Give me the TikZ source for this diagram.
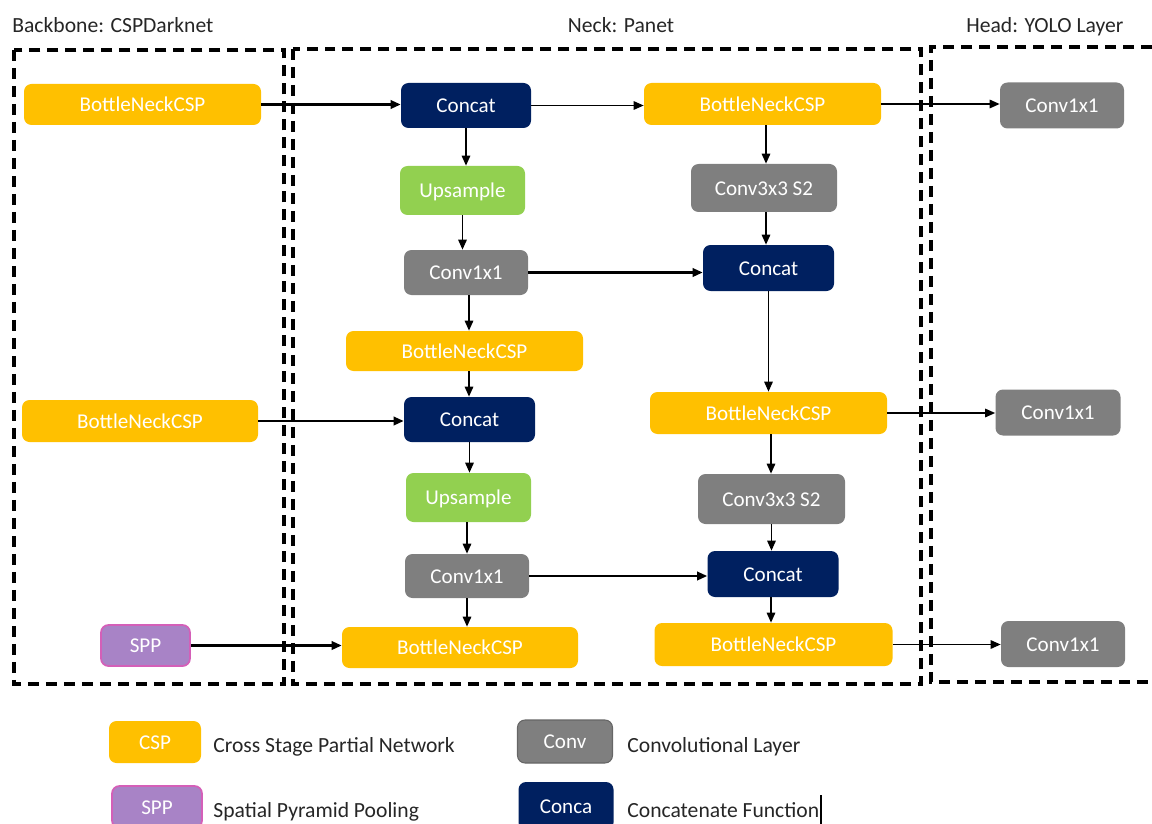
\documentclass[tikz,border=0pt]{standalone}
\usepackage{fontspec}
\setmainfont{Carlito}
\usetikzlibrary{arrows.meta}
\definecolor{cspY}{HTML}{FFC000}
\definecolor{navyC}{HTML}{002060}
\definecolor{greenU}{HTML}{92D050}
\definecolor{grayC}{HTML}{7F7F7F}
\definecolor{sppF}{HTML}{A883C6}
\definecolor{sppB}{HTML}{D45FB8}
\definecolor{titleC}{HTML}{262626}
\begin{document}
\begin{tikzpicture}[x=0.02cm,y=-0.02cm,
  blk/.style={rounded corners=0.15cm, inner sep=0pt, text=white, font=\fontsize{12}{14}\selectfont, text height=0.85em, text depth=0pt},
  wh/.style 2 args={minimum width=#1*0.02cm, minimum height=#2*0.02cm},
  csp/.style={blk, fill=cspY},
  cat/.style={blk, fill=navyC},
  ups/.style={blk, fill=greenU},
  conv/.style={blk, fill=grayC},
  spp/.style={blk, fill=sppF, draw=sppB, line width=1pt},
  arr/.style={-{Triangle[length=0.2cm,width=0.17cm]}, line width=0.85pt},
  arrb/.style={arr, line width=1.2pt},
  secbox/.style={draw=black, line width=2.2pt, dash pattern=on 0.22cm off 0.14cm},
  ttl/.style={anchor=base west, inner sep=0pt, text=titleC, font=\fontsize{12.3}{14}\selectfont},
  lgd/.style={anchor=base west, inner sep=0pt, text=black!85, font=\fontsize{12.3}{14}\selectfont}
]
\useasboundingbox (0,0) rectangle (1152,824);

% titles
\node[ttl] (tb) at (12,33) {Backbone: CSPDarknet};
\node[ttl, anchor=base] (tn) at (621,33) {Neck: Panet};
\node[ttl] (th) at (966,33) {Head: YOLO Layer};

% backbone
\node[csp, wh={237}{41}] (b1) at (142.5,104.5) {BottleNeckCSP};
\node[csp, wh={236}{42}] (b2) at (140,421) {BottleNeckCSP};
\node[spp, wh={89}{41}] (sp) at (145.5,645.5) {SPP};

% neck left column
\node[cat, wh={130}{45}] (c1) at (466,105.5) {Concat};
\node[ups, wh={125}{49}] (u1) at (462.5,190.5) {Upsample};
\node[conv, wh={124}{45}] (k1) at (466,272.5) {Conv1x1};
\node[csp, wh={237}{40}] (n3) at (464.5,351) {BottleNeckCSP};
\node[cat, wh={131}{45}] (c2) at (469.5,419.5) {Concat};
\node[ups, wh={125}{49}] (u2) at (468.5,497.5) {Upsample};
\node[conv, wh={124}{44}] (k2) at (467,576) {Conv1x1};
\node[csp, wh={236}{41}] (n4) at (460,647.5) {BottleNeckCSP};

% neck right column
\node[csp, wh={237}{42}] (n5) at (762.5,104) {BottleNeckCSP};
\node[conv, wh={146}{48}] (s1) at (764,188) {Conv3x3 S2};
\node[cat, wh={131}{46}] (c3) at (768.5,268) {Concat};
\node[csp, wh={237}{42}] (n6) at (768.5,413) {BottleNeckCSP};
\node[conv, wh={147}{50}] (s2) at (771.5,499) {Conv3x3 S2};
\node[cat, wh={131}{46}] (c4) at (773,574) {Concat};
\node[csp, wh={238}{43}] (n7) at (773.5,644.5) {BottleNeckCSP};

% head
\node[conv, wh={124}{46}] (h1) at (1062,105.5) {Conv1x1};
\node[conv, wh={125}{46}] (h2) at (1058,412.5) {Conv1x1};
\node[conv, wh={124}{46}] (h3) at (1063,644) {Conv1x1};

% arrows
\draw[arrb] (b1.east) -- (b1.east -| c1.west);
\draw[arr] (c1.east) -- (c1.east -| n5.west);
\draw[arr] (n5.east) -- (n5.east -| h1.west);
\draw[arr] (c1.south) -- (c1.south |- u1.north);
\draw[arr] (u1.south) -- (u1.south |- k1.north);
\draw[arrb] (k1.east) -- (k1.east -| c3.west);
\draw[arr] ([xshift=3*0.02cm]k1.south) -- ([xshift=3*0.02cm]k1.south |- n3.north);
\draw[arr] ([xshift=4.5*0.02cm]n3.south) -- ([xshift=4.5*0.02cm]n3.south |- c2.north);
\draw[arrb] (b2.east) -- (b2.east -| c2.west);
\draw[arr] (c2.south) -- (c2.south |- u2.north);
\draw[arr] ([xshift=-1.5*0.02cm]u2.south) -- ([xshift=-1.5*0.02cm]u2.south |- k2.north);
\draw[arrb] (k2.east) -- (k2.east -| c4.west);
\draw[arr] (k2.south) -- (k2.south |- n4.north);
\draw[arrb] (sp.east) -- (sp.east -| n4.west);
\draw[arr] ([xshift=3.5*0.02cm]n5.south) -- ([xshift=3.5*0.02cm]n5.south |- s1.north);
\draw[arr] ([xshift=2*0.02cm]s1.south) -- ([xshift=2*0.02cm]s1.south |- c3.north);
\draw[arr] (c3.south) -- (c3.south |- n6.north);
\draw[arr] ([xshift=2.5*0.02cm]n6.south) -- ([xshift=2.5*0.02cm]n6.south |- s2.north);
\draw[arr] (s2.south) -- (s2.south |- c4.north);
\draw[arr] ([xshift=-2*0.02cm]c4.south) -- ([xshift=-2*0.02cm]c4.south |- n7.north);
\draw[arr] (n6.east) -- (n6.east -| h2.west);
\draw[arr] (n7.east) -- (n7.east -| h3.west);

% section boxes
\draw[secbox] (14,50) rectangle (284,684);
\draw[secbox] (293,49) rectangle (921,684);
\draw[secbox] (1170,47) -- (931,47) -- (931,682) -- (1170,682);

% legend
\node[csp, wh={92}{42}] (lc) at (155,742) {CSP};
\node[lgd] (lct) at (213,752) {Cross Stage Partial Network};
\node[spp, wh={90}{42}] (ls) at (157,807) {SPP};
\node[lgd] (lst) at (213,817) {Spatial Pyramid Pooling};
\node[conv, wh={95}{43}, draw=grayC!80!black, line width=0.6pt] (lv) at (565,741.5) {Conv};
\node[lgd] (lvt) at (627,752) {Convolutional Layer};
\node[cat, wh={95}{48}] (lk) at (566,806) {Conca};
\node[lgd] (lkt) at (627,817) {Concatenate Function};
\coordinate (cu1) at (821,795);
\coordinate (cu2) at (821,824);
\draw[line width=0.6pt] (cu1) -- (cu2);
\end{tikzpicture}
\end{document}
